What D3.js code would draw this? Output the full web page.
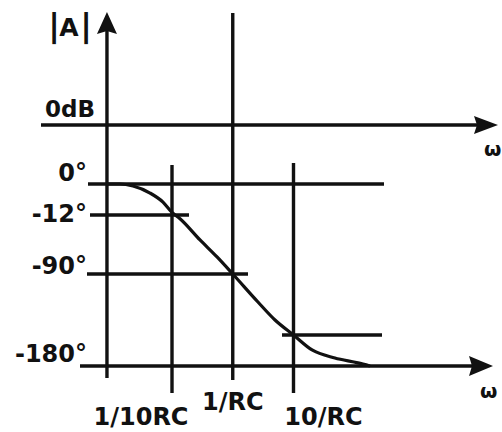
<!DOCTYPE html>
<html>
<head>
<meta charset="utf-8">
<script src="https://cdn.jsdelivr.net/npm/d3@7"></script>
<style>
  html, body { margin: 0; padding: 0; background: #fff; }
  svg { display: block; }
  text { font-family: "DejaVu Sans", sans-serif; font-weight: bold; fill: #111; }
</style>
</head>
<body>
<svg id="chart" width="502" height="432"></svg>
<script>
// Frequency values are in units of 1/RC (ω·RC); phase in degrees.
const freqTicks = [0.1, 1, 10];
const freqLabels = ["1/10RC", "1/RC", "10/RC"];
const phaseTicks = [0, -12, -90, -180];
const phaseLabels = ["0°", "-12°", "-90°", "-180°"];
const magLabel = "0dB";
const axisLabelY = "|A|";
const axisLabelX = "ω";

// Phase response
const omega = [0.0085, 0.0139, 0.0228, 0.0435, 0.071, 0.1, 0.1355, 0.289, 0.551, 1, 2.6, 4.96, 10, 20.2, 48, 115, 182];
const phase = [0, 0, -0.8, -3.5, -7, -11, -17, -45, -67.5, -90, -125.8, -148.8, -168, -173.8, -176.9, -178.8, -180];

const omegaOrigin = 0.0085;   // where the vertical axis stands
const lowerRefPhase = -168;   // unlabelled guide at 10/RC

const svg = d3.select("#chart");
const ink = "#111";
const sw = 3.4;

// Log frequency scale, one decade ≈ 61 px
const x = d3.scaleLog().domain([0.1, 10]).range([172, 293.5]);
// Phase scale: the guide levels are spaced as in a sketch, not to scale
const y = d3.scaleLinear()
  .domain([0, -12, -90, -168, -180])
  .range([184, 215, 274, 335, 366]);
const yMag0 = 125;

const g = svg.append("g")
  .attr("stroke", ink).attr("stroke-width", sw)
  .attr("stroke-linecap", "butt").attr("fill", "none");

function hline(x1, x2, yy) {
  g.append("line").attr("x1", x1).attr("x2", x2).attr("y1", yy).attr("y2", yy);
}
function vline(xx, y1, y2) {
  g.append("line").attr("x1", xx).attr("x2", xx).attr("y1", y1).attr("y2", y2);
}
function arrowRight(tipX, yy, len, half) {
  svg.append("path")
    .attr("d", `M${tipX},${yy} L${tipX - len},${yy - half} L${tipX - len + 3},${yy} L${tipX - len},${yy + half} Z`)
    .attr("fill", ink);
}
function arrowUp(xx, tipY, len, half) {
  svg.append("path")
    .attr("d", `M${xx},${tipY} L${xx - half},${tipY + len} L${xx},${tipY + len - 3} L${xx + half},${tipY + len} Z`)
    .attr("fill", ink);
}

const x0 = x(omegaOrigin);

// Vertical axis with arrow
vline(x0, 28, 378);
arrowUp(x0, 12, 22, 10);

// Frequency guide lines (top end, bottom end)
const guideSpan = [[165, 393], [13, 380], [163, 393]];
freqTicks.forEach((f, i) => vline(x(f), guideSpan[i][0], guideSpan[i][1]));

// Magnitude 0 dB axis
hline(41, 480, yMag0);
arrowRight(498, yMag0, 24, 9);

// Phase guide lines
const phaseSpan = { "0": [88, 384], "-12": [90, 189], "-90": [87, 248] };
phaseTicks.slice(0, 3).forEach(p => hline(phaseSpan[p][0], phaseSpan[p][1], y(p)));
hline(282, 382, y(lowerRefPhase));

// Phase axis (-180°) with arrow
hline(80, 475, y(-180));
arrowRight(493, y(-180), 24, 10);

// Phase curve
const line = d3.line()
  .x((d, i) => x(omega[i]))
  .y(d => y(d))
  .curve(d3.curveMonotoneX);
g.append("path").attr("d", line(phase)).attr("stroke-width", 3.2);

// Phase labels
const phaseBase = [181, 222, 274, 362];
svg.selectAll("text.ph").data(phaseLabels).join("text")
  .attr("class", "ph")
  .attr("x", 87)
  .attr("y", (d, i) => phaseBase[i])
  .attr("text-anchor", "end")
  .attr("font-size", 24)
  .text(d => d);

// 0 dB label
svg.append("text").attr("x", 45).attr("y", 117)
  .attr("font-size", 23).text(magLabel);

// Frequency labels
const freqDx = [-31, 0, 30];
const freqBase = [425, 410, 425];
svg.selectAll("text.fq").data(freqLabels).join("text")
  .attr("class", "fq")
  .attr("x", (d, i) => x(freqTicks[i]) + freqDx[i])
  .attr("y", (d, i) => freqBase[i])
  .attr("text-anchor", "middle")
  .attr("font-size", 24)
  .text(d => d);

// |A| label
const aLab = svg.append("text").attr("y", 36).attr("text-anchor", "middle");
const parts = axisLabelY.split("");
const partX = [54, 69, 86];
const partSize = [32, 25, 32];
parts.forEach((c, i) => {
  aLab.append("tspan").attr("x", partX[i]).attr("font-size", partSize[i]).text(c);
});

// ω labels
svg.append("text").attr("x", 484).attr("y", 156).attr("font-size", 20).text(axisLabelX);
svg.append("text").attr("x", 480).attr("y", 398).attr("font-size", 20).text(axisLabelX);
</script>
</body>
</html>
